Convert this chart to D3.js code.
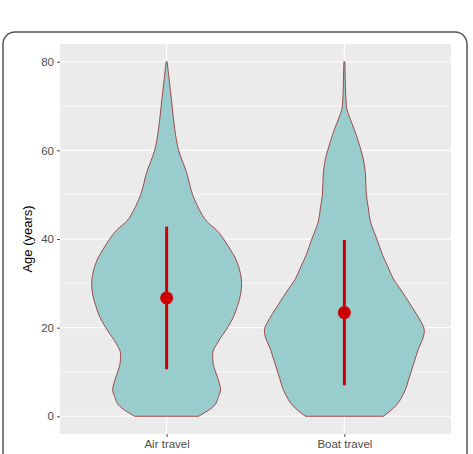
<!DOCTYPE html>
<html>
<head>
<meta charset="utf-8">
<script src="https://cdn.jsdelivr.net/npm/d3@7"></script>
<style>
  html, body { margin: 0; padding: 0; background: #fff; }
  svg { display: block; font-family: "Liberation Sans", Arial, sans-serif; }
</style>
</head>
<body>
<svg id="chart" width="473" height="454"></svg>
<script>
// Categories and summary values (mean, lower, upper)
const categories = ['Air travel', 'Boat travel'];
const centers = [26.7, 23.4];
const lowers = [10.6, 7.0];
const uppers = [42.8, 39.8];

// Violin profiles: age and relative density
const airAges =    [0, 2.5, 4.5, 6, 8, 10, 12, 14, 17, 20, 22.5, 25, 27.5, 30, 33, 36, 37.5, 40, 42, 44, 46.5, 50, 55, 60, 65, 70, 75, 80];
const airDensity = [32, 48, 52, 54, 52, 49, 46.5, 46, 52, 61, 67, 71, 74, 75, 73, 68, 64, 57, 50, 40, 33, 26, 20, 12, 8, 5.5, 3, 0.5];
const boatAges =    [0, 2.5, 5, 9.5, 14.5, 19.3, 22, 24.5, 27, 29, 31, 33.5, 36.5, 39.7, 42, 44, 47, 50, 55, 58, 62, 65, 67, 70, 75, 80];
const boatDensity = [39, 52, 59, 66, 73, 80, 75, 68, 61, 55, 49, 44, 38, 33, 29, 26, 24, 22, 21, 19, 14, 9.5, 6, 2, 1, 0.5];

const yTicks = [0, 20, 40, 60, 80];
const yMinor = [10, 30, 50, 70];

const svg = d3.select('#chart');
const panel = { left: 60, right: 451, top: 44, bottom: 434 };

// Outer rounded frame
svg.append('rect')
    .attr('x', 3).attr('y', 32)
    .attr('width', 464).attr('height', 440)
    .attr('rx', 12)
    .attr('fill', 'none')
    .attr('stroke', '#555')
    .attr('stroke-width', 1.5);

const x = d3.scalePoint()
    .domain(categories)
    .range([panel.left, panel.right])
    .padding(0.6);

const y = d3.scaleLinear()
    .domain([-4, 84])
    .range([panel.bottom, panel.top]);

const maxDensity = d3.max(airDensity.concat(boatDensity));
const w = d3.scaleLinear()
    .domain([0, maxDensity])
    .range([0, 0.45 * x.step()]);

// Panel background
svg.append('rect')
    .attr('x', panel.left).attr('y', panel.top)
    .attr('width', panel.right - panel.left)
    .attr('height', panel.bottom - panel.top)
    .attr('fill', '#EBEBEB');

// Grid lines
const grid = svg.append('g');
grid.selectAll('.minor')
    .data(yMinor)
    .join('line')
    .attr('x1', panel.left).attr('x2', panel.right)
    .attr('y1', d => y(d)).attr('y2', d => y(d))
    .attr('stroke', '#fff').attr('stroke-width', 0.6);
grid.selectAll('.major')
    .data(yTicks)
    .join('line')
    .attr('x1', panel.left).attr('x2', panel.right)
    .attr('y1', d => y(d)).attr('y2', d => y(d))
    .attr('stroke', '#fff').attr('stroke-width', 1.2);
grid.selectAll('.vmajor')
    .data(categories)
    .join('line')
    .attr('x1', d => x(d)).attr('x2', d => x(d))
    .attr('y1', panel.top).attr('y2', panel.bottom)
    .attr('stroke', '#fff').attr('stroke-width', 1.2);

// Violins
const profiles = [
    airAges.map((a, i) => ({ age: a, dens: airDensity[i] })),
    boatAges.map((a, i) => ({ age: a, dens: boatDensity[i] }))
];

categories.forEach((cat, i) => {
    const cx = x(cat);
    const area = d3.area()
        .y(d => y(d.age))
        .x0(d => cx - w(d.dens))
        .x1(d => cx + w(d.dens))
        .curve(d3.curveMonotoneY);
    svg.append('path')
        .datum(profiles[i])
        .attr('d', area)
        .attr('fill', '#99CCCC')
        .attr('stroke', '#9B3B3B')
        .attr('stroke-width', 0.9);
});

// Summary bars and points
const summary = svg.append('g');
summary.selectAll('line')
    .data(categories)
    .join('line')
    .attr('x1', d => x(d)).attr('x2', d => x(d))
    .attr('y1', (d, i) => y(lowers[i]))
    .attr('y2', (d, i) => y(uppers[i]))
    .attr('stroke', '#CC0000')
    .attr('stroke-width', 3);
summary.selectAll('circle')
    .data(categories)
    .join('circle')
    .attr('cx', d => x(d))
    .attr('cy', (d, i) => y(centers[i]))
    .attr('r', 6.5)
    .attr('fill', '#CC0000');

// Axes
const yAxis = svg.append('g')
    .attr('transform', `translate(${panel.left},0)`)
    .call(d3.axisLeft(y).tickValues(yTicks).tickSize(3).tickPadding(3));
const xAxis = svg.append('g')
    .attr('transform', `translate(0,${panel.bottom})`)
    .call(d3.axisBottom(x).tickSize(3).tickPadding(3));

[yAxis, xAxis].forEach(g => {
    g.select('.domain').remove();
    g.selectAll('.tick line').attr('stroke', '#4D4D4D');
    g.selectAll('.tick text')
        .attr('fill', '#4D4D4D')
        .attr('font-size', 11.5)
        .attr('font-family', '"Liberation Sans", Arial, sans-serif');
});

// Y axis title
svg.append('text')
    .attr('transform', `translate(32,${(panel.top + panel.bottom) / 2}) rotate(-90)`)
    .attr('text-anchor', 'middle')
    .attr('font-size', 13)
    .attr('fill', '#000')
    .text('Age (years)');
</script>
</body>
</html>
